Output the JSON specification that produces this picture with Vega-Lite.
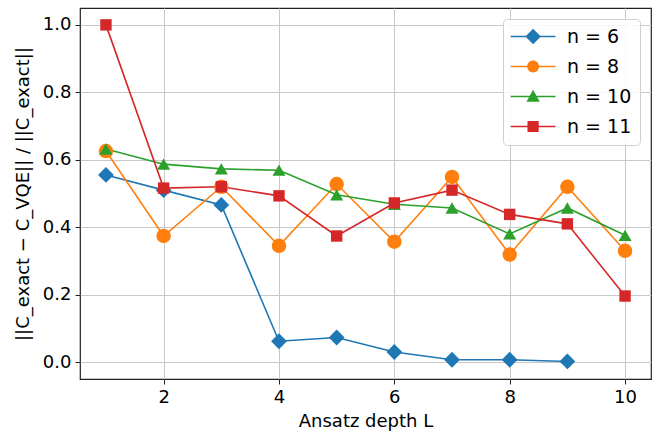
{
  "$schema": "https://vega.github.io/schema/vega-lite/v6.json",
  "width": 571,
  "height": 371,
  "autosize": "none",
  "padding": {"left": 80, "top": 8, "right": 4, "bottom": 54},
  "background": "white",
  "config": {
    "font": "DejaVu Sans",
    "view": {"stroke": "#222", "strokeWidth": 1.2},
    "axis": {
      "labelFont": "DejaVu Sans",
      "titleFont": "DejaVu Sans",
      "labelFontSize": 18,
      "titleFontSize": 18,
      "labelColor": "#000",
      "titleColor": "#000",
      "titleFontWeight": "normal",
      "tickColor": "#222",
      "tickSize": 5,
      "gridColor": "#c8c8c8",
      "gridWidth": 1,
      "domain": false
    },
    "legend": {
      "orient": "top-right", "offset": 11,
      "labelFontSize": 19, "labelFont": "DejaVu Sans", "labelColor": "#000",
      "symbolSize": 196, "symbolOpacity": 1, "symbolStrokeWidth": 0,
      "symbolBaseFillColor": {"expr": "scale('color', datum.value)"},
      "strokeColor": "#d0d0d0", "fillColor": "rgba(255,255,255,0.85)", "cornerRadius": 4,
      "padding": 8, "rowPadding": 10, "labelOffset": 37
    }
  },
  "data": {
    "values": [
      {"L": 1, "v": 0.555, "n": "n = 6"},
      {"L": 2, "v": 0.51, "n": "n = 6"},
      {"L": 3, "v": 0.466, "n": "n = 6"},
      {"L": 4, "v": 0.062, "n": "n = 6"},
      {"L": 5, "v": 0.073, "n": "n = 6"},
      {"L": 6, "v": 0.03, "n": "n = 6"},
      {"L": 7, "v": 0.007, "n": "n = 6"},
      {"L": 8, "v": 0.007, "n": "n = 6"},
      {"L": 9, "v": 0.002, "n": "n = 6"},
      {"L": 1, "v": 0.626, "n": "n = 8"},
      {"L": 2, "v": 0.374, "n": "n = 8"},
      {"L": 3, "v": 0.52, "n": "n = 8"},
      {"L": 4, "v": 0.345, "n": "n = 8"},
      {"L": 5, "v": 0.528, "n": "n = 8"},
      {"L": 6, "v": 0.357, "n": "n = 8"},
      {"L": 7, "v": 0.549, "n": "n = 8"},
      {"L": 8, "v": 0.319, "n": "n = 8"},
      {"L": 9, "v": 0.52, "n": "n = 8"},
      {"L": 10, "v": 0.33, "n": "n = 8"},
      {"L": 1, "v": 0.632, "n": "n = 10"},
      {"L": 2, "v": 0.587, "n": "n = 10"},
      {"L": 3, "v": 0.573, "n": "n = 10"},
      {"L": 4, "v": 0.569, "n": "n = 10"},
      {"L": 5, "v": 0.496, "n": "n = 10"},
      {"L": 6, "v": 0.468, "n": "n = 10"},
      {"L": 7, "v": 0.457, "n": "n = 10"},
      {"L": 8, "v": 0.38, "n": "n = 10"},
      {"L": 9, "v": 0.457, "n": "n = 10"},
      {"L": 10, "v": 0.376, "n": "n = 10"},
      {"L": 1, "v": 1.0, "n": "n = 11"},
      {"L": 2, "v": 0.516, "n": "n = 11"},
      {"L": 3, "v": 0.52, "n": "n = 11"},
      {"L": 4, "v": 0.493, "n": "n = 11"},
      {"L": 5, "v": 0.374, "n": "n = 11"},
      {"L": 6, "v": 0.472, "n": "n = 11"},
      {"L": 7, "v": 0.51, "n": "n = 11"},
      {"L": 8, "v": 0.438, "n": "n = 11"},
      {"L": 9, "v": 0.41, "n": "n = 11"},
      {"L": 10, "v": 0.196, "n": "n = 11"}
    ]
  },
  "encoding": {
    "x": {
      "field": "L", "type": "quantitative",
      "scale": {"domain": [0.55, 10.45], "nice": false, "zero": false},
      "axis": {"values": [2, 4, 6, 8, 10], "title": "Ansatz depth L", "titlePadding": 6, "labelPadding": 4}
    },
    "y": {
      "field": "v", "type": "quantitative",
      "scale": {"domain": [-0.05, 1.05], "nice": false, "zero": false},
      "axis": {"values": [0, 0.2, 0.4, 0.6, 0.8, 1.0], "format": ".1f", "title": "||C_exact − C_VQE|| / ||C_exact||", "titlePadding": 10, "labelPadding": 4}
    },
    "color": {
      "field": "n", "type": "nominal",
      "scale": {"domain": ["n = 6", "n = 8", "n = 10", "n = 11"], "range": ["#1f77b4", "#ff7f0e", "#2ca02c", "#d62728"]},
      "legend": null
    }
  },
  "layer": [
    {
      "mark": {"type": "line", "strokeWidth": 1.6},
      "encoding": {}
    },
    {
      "mark": {"type": "point", "filled": true, "opacity": 1},
      "encoding": {
        "shape": {
          "field": "n", "type": "nominal", "legend": null,
          "scale": {"domain": ["n = 6", "n = 8", "n = 10", "n = 11"], "range": ["diamond", "circle", "triangle-up", "square"]}
        },
        "size": {
          "field": "n", "type": "nominal", "legend": null,
          "scale": {"domain": ["n = 6", "n = 8", "n = 10", "n = 11"], "range": [250, 130, 140, 130]}
        }
      }
    },
    {
      "mark": {"type": "point", "filled": true, "opacity": 0},
      "encoding": {
        "shape": {
          "field": "n", "type": "nominal",
          "scale": {"domain": ["n = 6", "n = 8", "n = 10", "n = 11"], "range": [
            "M-1.4,-0.1H1.3V0.1H-1.4Z M2.3,-0.1H5V0.1H2.3Z M1.8,-1.1L2.9,0L1.8,1.1L0.7,0Z",
            "M-1.4,-0.1H1.3V0.1H-1.4Z M2.3,-0.1H5V0.1H2.3Z M0.95,0A0.85,0.85 0 1,1 2.65,0A0.85,0.85 0 1,1 0.95,0Z",
            "M-1.4,-0.1H1.3V0.1H-1.4Z M2.3,-0.1H5V0.1H2.3Z M1.8,-0.95L2.75,0.75L0.85,0.75Z",
            "M-1.4,-0.1H1.3V0.1H-1.4Z M2.3,-0.1H5V0.1H2.3Z M1,-0.8H2.6V0.8H1Z"
          ]},
          "legend": {"title": null}
        }
      }
    }
  ],
  "resolve": {"scale": {"shape": "independent", "size": "independent"}}
}
